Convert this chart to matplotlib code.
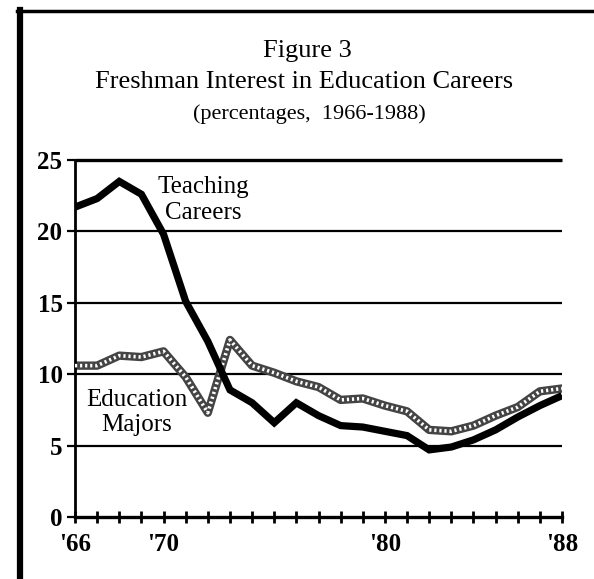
import matplotlib
matplotlib.use("Agg")
import matplotlib.pyplot as plt
from matplotlib.lines import Line2D

years = list(range(1966, 1989))
teaching = [21.7, 22.3, 23.5, 22.6, 19.8, 15.1, 12.3, 8.9, 8.0, 6.6, 8.0, 7.1,
            6.4, 6.3, 6.0, 5.7, 4.7, 4.9, 5.4, 6.1, 7.0, 7.8, 8.5]
ed_majors = [10.6, 10.6, 11.3, 11.2, 11.6, 9.8, 7.3, 12.4, 10.6, 10.1, 9.5, 9.1,
             8.2, 8.3, 7.8, 7.4, 6.1, 6.0, 6.4, 7.1, 7.7, 8.8, 9.0]
y_ticks = [0, 5, 10, 15, 20, 25]
x_ticks = [1966, 1970, 1980, 1988]
x_labels = ["'66", "'70", "'80", "'88"]

plt.rcParams['font.family'] = ['Liberation Serif', 'DejaVu Serif']

fig = plt.figure(figsize=(5.94, 5.79), dpi=100)
ax = fig.add_axes([75 / 594, 62 / 579, 487 / 594, 357 / 579])

# gridlines
for v in y_ticks[1:]:
    ax.plot([1966, 1988], [v, v], color='black', lw=1.6 if v < 25 else 2.4,
            solid_capstyle='butt', zorder=1, clip_on=False)

# education majors: patterned grey line
ax.plot(years, ed_majors, color='#444444', lw=6, zorder=2,
        solid_joinstyle='round', solid_capstyle='round')
ax.plot(years, ed_majors, color='white', lw=2.6, ls=(0, (0.6, 0.8)), zorder=3)

# teaching careers: thick black line
ax.plot(years, teaching, color='black', lw=5.2, zorder=4,
        solid_joinstyle='miter', solid_capstyle='butt')

ax.set_xlim(1966, 1988)
ax.set_ylim(0, 25)
for s in ['top', 'right']:
    ax.spines[s].set_visible(False)
ax.spines['left'].set_linewidth(2)
ax.spines['bottom'].set_linewidth(2.4)

ax.set_yticks(y_ticks)
ax.set_yticklabels([str(v) for v in y_ticks], fontsize=18, fontweight='bold')
ax.set_xticks(years, minor=True)
ax.set_xticks(x_ticks)
ax.set_xticklabels(x_labels, fontsize=18, fontweight='bold')
ax.tick_params(axis='y', length=6, width=1.6, pad=3)
ax.tick_params(axis='x', which='both', direction='inout', length=9, width=2, pad=7)

ax.text(1971.8, 22.2, "Teaching\nCareers", fontsize=18, ha='center', va='center',
        linespacing=1.2)
ax.text(1968.8, 7.3, "Education\nMajors", fontsize=18, ha='center', va='center',
        linespacing=1.2)

fig.text(0.518, 1 - 57 / 579, "Figure 3", fontsize=19, ha='center', va='baseline')
fig.text(0.512, 1 - 88 / 579, "Freshman Interest in Education Careers", fontsize=19,
         ha='center', va='baseline')
fig.text(0.52, 1 - 119 / 579, "(percentages,  1966-1988)", fontsize=16,
         ha='center', va='baseline')

# page frame (left and top edge)
fig.add_artist(Line2D([20 / 594, 20 / 594], [0, 1 - 10 / 579], color='black', lw=4.5))
fig.add_artist(Line2D([17 / 594, 1], [1 - 11 / 579, 1 - 11 / 579], color='black', lw=2.5))

fig.savefig("out.png", dpi=100)
